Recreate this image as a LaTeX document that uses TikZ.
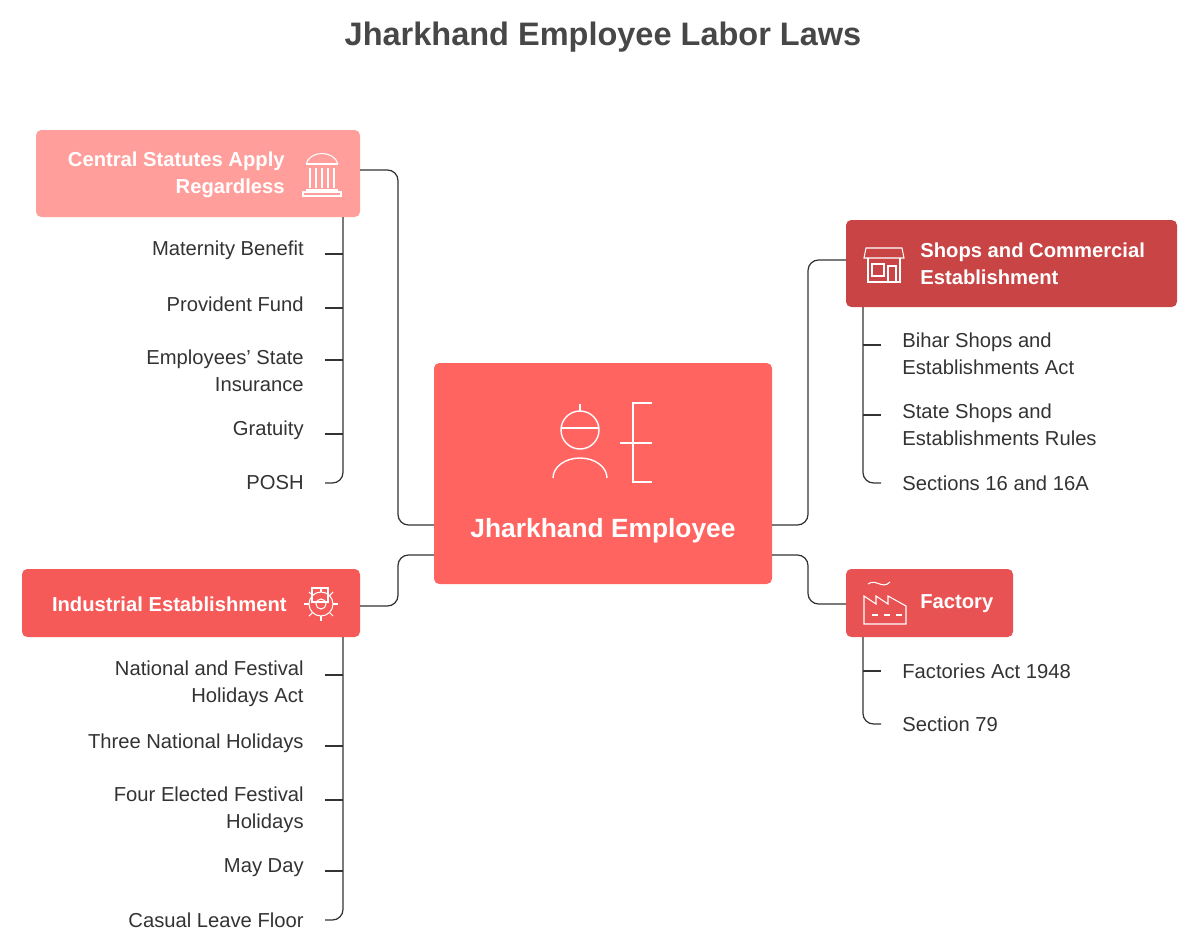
\documentclass[tikz,border=0pt]{standalone}
\usepackage{fontspec}
\setmainfont{Liberation Sans}
\usetikzlibrary{positioning}
\definecolor{pinkbox}{HTML}{FF9E9B}
\definecolor{mainbox}{HTML}{FF6461}
\definecolor{shopbox}{HTML}{C94545}
\definecolor{factbox}{HTML}{E85252}
\definecolor{indbox}{HTML}{F55A58}
\definecolor{ink}{HTML}{333333}
\tikzset{
  box/.style={rounded corners=3pt, draw=none},
  item/.style={font=\fontsize{11.5}{15.5}\selectfont, text=ink, align=right, anchor=east, inner sep=0pt},
  ritem/.style={font=\fontsize{11.5}{15.5}\selectfont, text=ink, align=left, anchor=west, inner sep=0pt},
  link/.style={draw=ink, line width=0.7pt, rounded corners=6pt},
  icon/.style={draw=white, line width=0.6pt}
}
\begin{document}
\begin{tikzpicture}[x=0.02cm, y=-0.02cm]
        \useasboundingbox (0,0) rectangle (1200,950);
        \node [font=\fontsize{18.5}{20}\selectfont\bfseries, text=ink!90] (title) at (603,37) {Jharkhand Employee Labor Laws};
        % boxes
        \fill [box, mainbox] (434,363) rectangle (772,584);
        \node [font=\fontsize{15}{16}\selectfont\bfseries, text=white] (emp) at (603,531) {Jharkhand Employee};
        \fill [box, pinkbox] (36,130) rectangle (360,217);
        \node [font=\fontsize{11.5}{15.5}\selectfont\bfseries, text=white, align=right, anchor=east, inner sep=0pt] (central) at (285,175) {Central Statutes Apply\\Regardless};
        \fill [box, indbox] (22,569) rectangle (360,637);
        \node [font=\fontsize{11.5}{14}\selectfont\bfseries, text=white, anchor=east, inner sep=0pt] (indus) at (287,604) {Industrial Establishment};
        \fill [box, shopbox] (846,220) rectangle (1177,307);
        \node [font=\fontsize{11.5}{15.5}\selectfont\bfseries, text=white, align=left, anchor=west, inner sep=0pt] (shops) at (920,264) {Shops and Commercial\\Establishment};
        \fill [box, factbox] (846,569) rectangle (1013,637);
        \node [font=\fontsize{11.5}{14}\selectfont\bfseries, text=white, anchor=west, inner sep=0pt] (fact) at (920,604) {Factory};
        % icons
        \draw [icon, line width=0.8pt] (580,430) circle (19);
        \draw [icon, line width=0.8pt] (561,428) -- (599,428) (580,411) -- (580,404);
        \draw [icon, line width=0.8pt] (553,478) arc (180:360:27 and 20);
        \draw [icon, line width=0.8pt] (652,403) -- (633,403) -- (633,482) -- (652,482) (620,443) -- (652,443);
        \draw [icon] (303,196) rectangle (341,192) (306,190) -- (338,190) (306,164) -- (338,164);
        \draw [icon] (306,164) .. controls (310,150) and (334,150) .. (338,164);
        \foreach \x in {310,316,322,328,334} \draw [icon] (\x,168) -- (\x,188);
        \draw [icon] (866,248) -- (902,248) -- (904,258) -- (864,258) -- cycle;
        \draw [icon] (868,258) -- (868,282) -- (900,282) -- (900,258) (872,264) rectangle (884,276) (888,266) rectangle (896,282);
        \draw [icon] (864,624) -- (864,596) -- (876,604) -- (876,596) -- (888,604) -- (888,596) -- (906,606) -- (906,624) -- cycle;
        \draw [icon] (868,584) .. controls (876,578) and (882,590) .. (890,582);
        \foreach \x in {872,884,896} \draw [icon] (\x,615) -- (\x+6,615);
        \draw [icon] (321,604) circle (12) (321,604) circle (5);
        \draw [icon] (312,588) rectangle (328,602);
        \foreach \a in {0,45,...,315} \draw [icon, shift={(321,604)}] (\a:12) -- (\a:17);
        % connectors
        \coordinate (c1) at (434,525);
        \coordinate (c2) at (434,555);
        \coordinate (c3) at (772,525);
        \coordinate (c4) at (772,555);
        \draw [link] (c1) -- (398,525) -- (398,170) -- (360,170);
        \draw [link] (c2) -- (398,555) -- (398,606) -- (360,606);
        \draw [link] (c3) -- (808,525) -- (808,260) -- (846,260);
        \draw [link] (c4) -- (808,555) -- (808,604) -- (846,604);
        % left items
        \draw [link] (343,217) -- (343,483) -- (325,483);
        \foreach \y/\t in {250/Maternity Benefit, 304/Provident Fund, 371/{Employees\char"0027{} State\\Insurance}, 430/Gratuity, 483/POSH}
          \node [item] at (304,\y) {\t};
        \foreach \y in {254,308,360,434} \draw [link] (325,\y) -- (343,\y);
        \draw [link] (343,637) -- (343,920) -- (325,920);
        \foreach \y/\t in {684/{National and Festival\\Holidays Act}, 743/Three National Holidays, 810/{Four Elected Festival\\Holidays}, 868/May Day, 920/Casual Leave Floor}
          \node [item] at (304,\y) {\t};
        \foreach \y in {675,746,800,871} \draw [link] (325,\y) -- (343,\y);
        % right items
        \draw [link] (863,307) -- (863,483) -- (881,483);
        \foreach \y/\t in {354/{Bihar Shops and\\Establishments Act}, 425/{State Shops and\\Establishments Rules}, 483/Sections 16 and 16A}
          \node [ritem] at (902,\y) {\t};
        \foreach \y in {345,415} \draw [link] (863,\y) -- (881,\y);
        \draw [link] (863,637) -- (863,724) -- (881,724);
        \node [ritem] at (902,671) {Factories Act 1948};
        \node [ritem] at (902,724) {Section 79};
        \draw [link] (863,671) -- (881,671);
\end{tikzpicture}
\end{document}
